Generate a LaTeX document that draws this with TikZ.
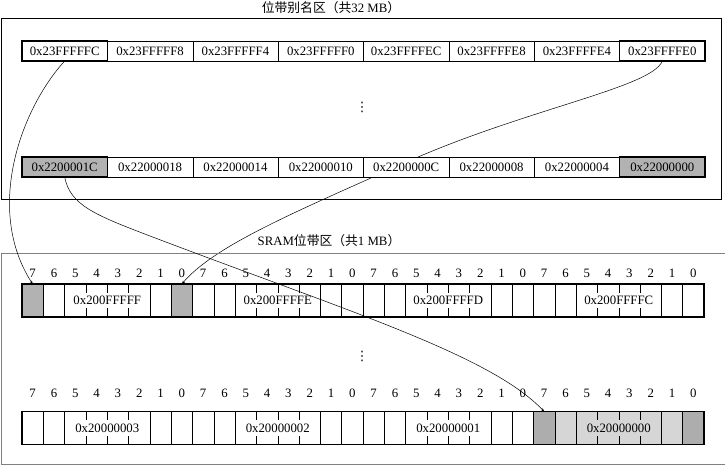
\documentclass[tikz,border=0pt]{standalone}
\usepackage{fontspec}
\setmainfont{Liberation Serif}
\newfontfamily\cjk{Noto Sans CJK SC}
\newfontfamily\symb{DejaVu Sans}
\usetikzlibrary{arrows.meta}
\pgfdeclarelayer{bg}
\pgfsetlayers{bg,main}
\definecolor{agray}{gray}{0.70}
\definecolor{lgray}{gray}{0.84}
\definecolor{dgray}{gray}{0.68}
\begin{document}
\begin{tikzpicture}[x=1pt,y=-1pt,
  font=\fontsize{12.8}{15}\selectfont,
  acell/.style={draw, line width=0.5pt, minimum width=85.375pt, minimum height=20pt, inner sep=0pt, outer sep=0pt, fill=white},
  bcell/.style={draw, line width=0.5pt, minimum width=21.3125pt, minimum height=33pt, inner sep=0pt, outer sep=0pt},
  lbl/.style={fill=white, inner xsep=1pt, inner ysep=3.4pt},
  num/.style={inner sep=0pt},
  vdot/.style={inner sep=0pt, font=\symb\fontsize{13}{15}\selectfont},
  link/.style={line width=0.5pt, -{Stealth[length=3.5pt,width=2.6pt]}},
  box/.style={line width=0.8pt}]
\useasboundingbox (0,0) rectangle (725,466);

% region boxes and titles
\draw[box] (1,18) rectangle (721,199);
\draw[box, draw=gray] (727,253) -- (1,253) -- (1,464) -- (727,464);
\node (title1) at (331,8) {{\cjk 位带别名区（共}32 MB{\cjk ）}};
\node (title2) at (329,241) {SRAM{\cjk 位带区（共}1 MB{\cjk ）}};

% alias region rows
\foreach \l [count=\i from 0] in {0x23FFFFFC,0x23FFFFF8,0x23FFFFF4,0x23FFFFF0,0x23FFFFEC,0x23FFFFE8,0x23FFFFE4,0x23FFFFE0}
  \node[acell] (t\i) at ({22+85.375*(\i+0.5)},51) {\l};
\draw[line width=1.4pt] (t0.north west) rectangle (t0.south east);
\draw[line width=1.4pt] (t7.north west) rectangle (t7.south east);

\node[acell, fill=agray, line width=1.2pt] (s0) at ({22+85.375*0.5},167) {0x2200001C};
\foreach \l [count=\i from 1] in {0x22000018,0x22000014,0x22000010,0x2200000C,0x22000008,0x22000004}
  \node[acell] (s\i) at ({22+85.375*(\i+0.5)},167) {\l};
\node[acell, fill=agray, line width=1.2pt] (s7) at ({22+85.375*7.5},167) {0x22000000};

\node[vdot] (dots1) at (362,107) {⋮};

% SRAM bit rows
\foreach \j in {0,...,31}{
  \ifnum\j=0 \def\c{agray}\else\ifnum\j=7 \def\c{agray}\else\def\c{white}\fi\fi
  \node[bcell, fill=\c] (a\j) at ({22+21.3125*(\j+0.5)},300.5) {};
  \pgfmathtruncatemacro\bit{7-mod(\j,8)}
  \node[num] (na\j) at ({22+21.3125*(\j+0.5)},273) {\bit};
}
\foreach \l [count=\k from 0] in {0x200FFFFF,0x200FFFFE,0x200FFFFD,0x200FFFFC}
  \node[lbl] (la\k) at ({22+170.5*(\k+0.5)},300.5) {\l};
\draw[line width=1.3pt] (a0.north west) rectangle (a31.south east);
\draw[line width=2.6pt] (a0.north west) -- (a31.north east);

\node[vdot] (dots2) at (362,356) {⋮};

\foreach \j in {0,...,31}{
  \ifnum\j<24 \def\c{white}\else\ifnum\j=24 \def\c{dgray}\else\ifnum\j=31 \def\c{dgray}\else\def\c{lgray}\fi\fi\fi
  \node[bcell, fill=\c] (b\j) at ({22+21.3125*(\j+0.5)},428) {};
  \pgfmathtruncatemacro\bit{7-mod(\j,8)}
  \node[num] (nb\j) at ({22+21.3125*(\j+0.5)},393) {\bit};
}
\foreach \l [count=\k from 0] in {0x20000003,0x20000002,0x20000001}
  \node[lbl] (lb\k) at ({22+170.5*(\k+0.5)},428) {\l};
\node[lbl, fill=lgray] (lb3) at ({22+170.5*3.5},428) {0x20000000};
\draw[line width=1.3pt] (b0.north west) rectangle (b31.south east);
\draw[line width=1.6pt] (b0.north west) -- (b31.north east);

% connectors
\begin{pgfonlayer}{bg}
\draw[link] (t7.south) .. controls (652,88) and (520,110) .. (400,165)
  .. controls (300,210) and (215,245) .. (a7.north);
\end{pgfonlayer}
\draw[link] (t0.south) .. controls (20,110) and (-15,210) .. (a0.north);
\draw[link] (s0.south) .. controls (70,205) and (95,215) .. (150,236)
  .. controls (350,312) and (490,355) .. (b24.north);
\end{tikzpicture}
\end{document}
